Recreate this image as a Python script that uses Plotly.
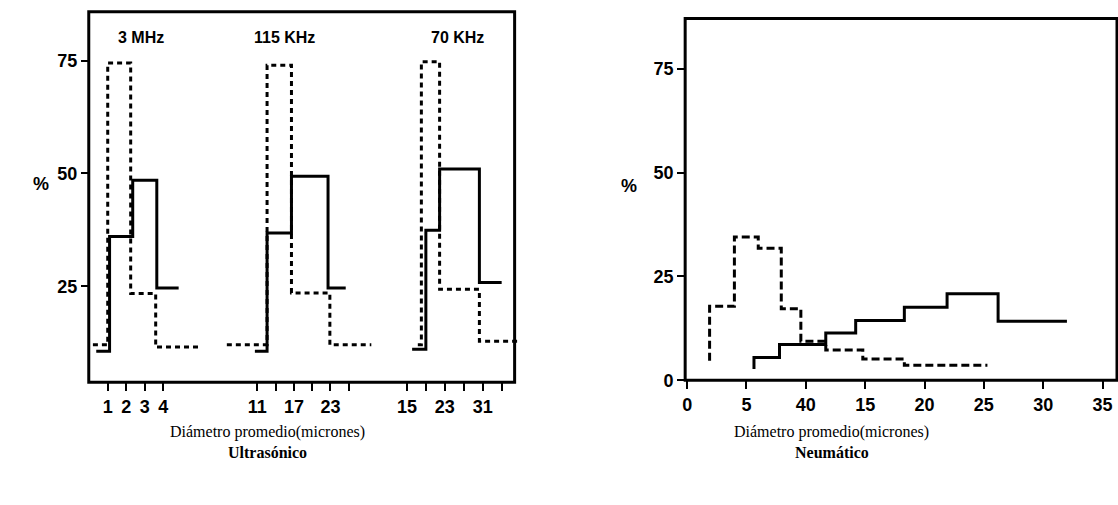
import plotly.graph_objects as go

W, H = 1118, 505

# ---------------- data ----------------
# Ultrasonic: three frequency groups, step histograms (bin edges, values) drawn with 'vh'
mhz3_dash_x = [0.2, 1.0, 2.24, 3.59, 6.07]
mhz3_dash_y = [12.0, 12.0, 74.5, 23.4, 11.5]
mhz3_solid_x = [0.38, 1.1, 2.35, 3.65, 4.83]
mhz3_solid_y = [10.6, 10.6, 36.0, 48.5, 24.6]

khz115_dash_x = [6.0, 12.6, 16.6, 22.9, 29.7]
khz115_dash_y = [12.0, 12.0, 74.0, 23.5, 12.0]
khz115_solid_x = [10.6, 12.6, 16.6, 22.6, 25.5]
khz115_solid_y = [10.6, 10.6, 36.8, 49.4, 24.6]

khz70_dash_x = [17.3, 18.05, 21.9, 30.3, 39.0]
khz70_dash_y = [12.0, 12.0, 74.8, 24.3, 12.8]
khz70_solid_x = [16.1, 19.0, 21.9, 30.3, 35.0]
khz70_solid_y = [11.0, 11.0, 37.4, 51.0, 25.8]

g1_ticks = [1, 2, 3, 4]
g1_labels = ["1", "2", "3", "4"]
g2_ticks = [11, 14, 17, 20, 23, 26]
g2_labels = ["11", "", "17", "", "23", ""]
g3_ticks = [15, 19, 23, 27, 31, 35]
g3_labels = ["15", "", "23", "", "31", ""]
freq_labels = ["3 MHz", "115 KHz", "70 KHz"]

# Pneumatic
neu_dash_x = [1.89, 3.98, 5.99, 7.93, 9.58, 11.68, 14.8, 18.3, 25.3]
neu_dash_y = [4.7, 17.8, 34.5, 31.8, 17.2, 9.4, 7.3, 5.1, 3.6]
neu_solid_x = [5.63, 7.78, 11.68, 14.2, 18.3, 21.9, 26.2, 32.0]
neu_solid_y = [2.7, 5.5, 8.6, 11.4, 14.4, 17.6, 20.8, 14.2]

neu_xticks = [0, 5, 10, 15, 20, 25, 30, 35]
neu_xlabels = ["0", "5", "40", "15", "20", "25", "30", "35"]
y_ticks = [25, 50, 75]
neu_yticks = [0, 25, 50, 75]

xlabel_text = "Diámetro promedio(micrones)"
panel_titles = ["Ultrasónico", "Neumático"]

# ---------------- helpers ----------------
def px(x):
    return x / W

def py(y):
    return 1 - y / H

TICKFONT = dict(family="Liberation Sans Narrow, Arial Narrow, Liberation Sans, Arial",
                size=18, color="black", weight="bold")

fig = go.Figure()

dash_left = "5px,4px"
dash_right = "8px,4px"
LW = 3

def add_pair(xd, yd, xs, ys, xa, ya, dash):
    fig.add_trace(go.Scatter(x=xd, y=yd, mode="lines", line=dict(color="black", width=LW, dash=dash, shape="vh"),
                             xaxis=xa, yaxis=ya, showlegend=False, hoverinfo="skip"))
    fig.add_trace(go.Scatter(x=xs, y=ys, mode="lines", line=dict(color="black", width=LW, shape="vh"),
                             xaxis=xa, yaxis=ya, showlegend=False, hoverinfo="skip"))

add_pair(mhz3_dash_x, mhz3_dash_y, mhz3_solid_x, mhz3_solid_y, "x", "y", dash_left)
add_pair(khz115_dash_x, khz115_dash_y, khz115_solid_x, khz115_solid_y, "x2", "y", dash_left)
add_pair(khz70_dash_x, khz70_dash_y, khz70_solid_x, khz70_solid_y, "x3", "y", dash_left)
add_pair(neu_dash_x, neu_dash_y, neu_solid_x, neu_solid_y, "x4", "y2", dash_right)

# left panel geometry (pixels)
L_left, L_right, L_top, L_bot = 86, 513, 12, 390
# y: 75 at 62px, 25 at 292px
ppu = (292 - 62) / 50.0
y_lo = 25 - (L_bot - 292) / ppu
y_hi = 75 + (62 - L_top) / ppu

def xrange_for(px0, v0, ppu_x, d0, d1):
    return [v0 - (px0 - d0) / ppu_x, v0 + (d1 - px0) / ppu_x]

g1_dom = (L_left, 205)
g2_dom = (205, 375)
g3_dom = (375, 530)
g1_range = xrange_for(105, 1, 18.57, *g1_dom)
g2_range = xrange_for(255, 11, 6.113, *g2_dom)
g3_range = xrange_for(405, 15, 4.75, *g3_dom)

common_x = dict(showgrid=False, zeroline=False, showline=False, ticks="outside", ticklen=8,
                tickwidth=2, tickcolor="black", tickfont=TICKFONT, fixedrange=True)

fig.update_layout(
    width=W, height=H, margin=dict(l=0, r=0, t=0, b=0),
    paper_bgcolor="white", plot_bgcolor="rgba(0,0,0,0)",
    xaxis=dict(domain=[px(g1_dom[0]), px(g1_dom[1])], range=g1_range, anchor="y",
               tickvals=g1_ticks, ticktext=g1_labels, **common_x),
    xaxis2=dict(domain=[px(g2_dom[0]), px(g2_dom[1])], range=g2_range, anchor="y",
                tickvals=g2_ticks, ticktext=g2_labels, **common_x),
    xaxis3=dict(domain=[px(g3_dom[0]), px(g3_dom[1])], range=g3_range, anchor="y",
                tickvals=g3_ticks, ticktext=g3_labels, **common_x),
    yaxis=dict(domain=[py(L_bot), py(L_top)], range=[y_lo, y_hi], anchor="x",
               tickvals=y_ticks, showgrid=False, zeroline=False, showline=False,
               ticks="outside", ticklen=7, tickwidth=2, tickcolor="black", tickfont=TICKFONT,
               fixedrange=True),
)

# right panel geometry
R_left, R_right, R_top, R_bot = 684, 1117, 19, 388
r_ppx = 11.9
r_ppy = (388 - 70) / 75.0
fig.update_layout(
    xaxis4=dict(domain=[px(R_left), px(R_right)], range=[(R_left - 686) / r_ppx, (R_right - 686) / r_ppx],
                anchor="y2", tickvals=neu_xticks, ticktext=neu_xlabels, **common_x),
    yaxis2=dict(domain=[py(R_bot), py(R_top)], range=[0, (R_bot - R_top) / r_ppy], anchor="x4",
                tickvals=neu_yticks, showgrid=False, zeroline=False, showline=False,
                ticks="outside", ticklen=7, tickwidth=2, tickcolor="black", tickfont=TICKFONT,
                fixedrange=True),
)

# frames
shapes = [
    dict(type="rect", xref="paper", yref="paper", x0=px(L_left), x1=px(L_right), y0=py(L_bot), y1=py(L_top),
         line=dict(color="black", width=3), fillcolor="rgba(0,0,0,0)", layer="above"),
    dict(type="rect", xref="paper", yref="paper", x0=px(R_left), x1=px(R_right), y0=py(R_bot), y1=py(R_top),
         line=dict(color="black", width=3), fillcolor="rgba(0,0,0,0)", layer="above"),
]
fig.update_layout(shapes=shapes)

ann = []
BOLDFONT = dict(family="Liberation Sans Narrow, Arial Narrow, Liberation Sans, Arial", size=16,
                color="black", weight="bold")
for label, cx in zip(freq_labels, [138, 282, 456]):
    ann.append(dict(text=label, x=px(cx), y=py(38), xref="paper", yref="paper", showarrow=False,
                    font=BOLDFONT, xanchor="center", yanchor="middle"))
ann.append(dict(text="%", x=px(38), y=py(188), xref="paper", yref="paper", showarrow=False,
                font=dict(BOLDFONT, size=18), xanchor="center", yanchor="middle"))
ann.append(dict(text="%", x=px(628), y=py(190), xref="paper", yref="paper", showarrow=False,
                font=dict(BOLDFONT, size=18), xanchor="center", yanchor="middle"))

SERIF = dict(family="Liberation Serif, Times New Roman, serif", size=16, color="black")
for cx, title in zip([265, 831], panel_titles):
    ann.append(dict(text=xlabel_text, x=px(cx), y=py(441), xref="paper", yref="paper", showarrow=False,
                    font=SERIF, xanchor="center", yanchor="middle"))
    ann.append(dict(text="<b>" + title + "</b>", x=px(cx), y=py(462), xref="paper", yref="paper",
                    showarrow=False, font=SERIF, xanchor="center", yanchor="middle"))
fig.update_layout(annotations=ann)

fig.write_html("out.html")
